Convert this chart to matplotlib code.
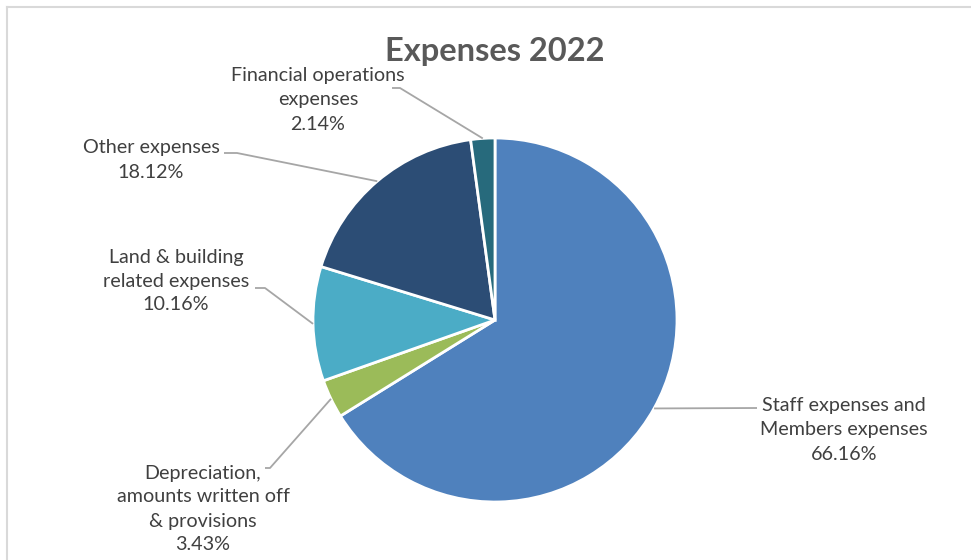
import numpy as np
import matplotlib
matplotlib.use("Agg")
import matplotlib.pyplot as plt
from matplotlib.lines import Line2D

# Expense breakdown, 2022 (share of total, %)
categories = [
    "Staff expenses and\nMembers expenses",
    "Depreciation,\namounts written off\n& provisions",
    "Land & building\nrelated expenses",
    "Other expenses",
    "Financial operations\nexpenses",
]
shares = [66.16, 3.43, 10.16, 18.12, 2.14]
colors = ["#4F81BD", "#9BBB59", "#4BACC6", "#2C4D75", "#276A7C"]

W, H = 971, 560
fig = plt.figure(figsize=(W / 100, H / 100), dpi=100)
ax = fig.add_axes([0, 0, 1, 1])

# chart frame
fig.add_artist(Line2D([7 / W, 1], [1 - 7 / H, 1 - 7 / H], color="#D9D9D9", lw=1.5))
fig.add_artist(Line2D([7 / W, 7 / W], [0, 1 - 7 / H], color="#D9D9D9", lw=1.5))

cx, cy, r = 495, H - 320, 182
wedges, _ = ax.pie(shares, colors=colors, startangle=90, counterclock=False,
                   center=(cx, cy), radius=r, frame=True,
                   wedgeprops=dict(edgecolor="white", linewidth=2))
ax.set_xlim(0, W)
ax.set_ylim(0, H)
ax.set_aspect("equal")
ax.axis("off")

ax.text(cx, H - 51, "Expenses 2022", ha="center", va="center",
        fontsize=23.5, fontweight="bold", color="#595959", family="Lato")

# label centre (px, y from top) and where the leader line bends
label_pos = [(844, 430), (203, 509), (176, 281), (151, 160), (318, 100)]
elbows = [(757, 408), (265, 468), (255, 288), (224, 153), (392, 88)]
knees = [None, (270, 468), (265, 288), (237, 153), (400, 88)]

for w, cat, val, (lx, ly), el, kn in zip(wedges, categories, shares,
                                          label_pos, elbows, knees):
    mid = np.deg2rad((w.theta1 + w.theta2) / 2)
    px, py = cx + r * np.cos(mid), cy + r * np.sin(mid)
    pts = [el] if kn is None else [el, kn]
    xs = [p[0] for p in pts] + [px]
    ys = [H - p[1] for p in pts] + [py]
    ax.plot(xs, ys, color="#A6A6A6", lw=1.3, solid_capstyle="butt")
    ax.text(lx, H - ly, f"{cat}\n{val:.2f}%", ha="center", va="center",
            fontsize=14.2, color="#404040", family="Lato", linespacing=1.5)

fig.savefig("out.png", dpi=100)
